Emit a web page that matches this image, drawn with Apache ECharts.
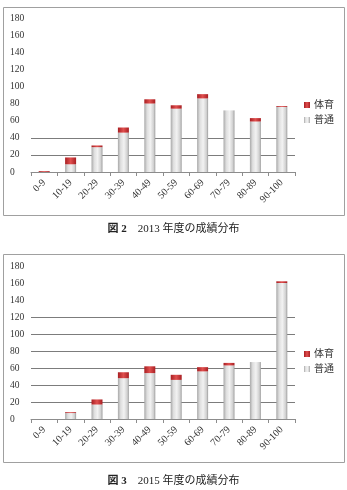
<!DOCTYPE html>
<html>
<head>
<meta charset="utf-8">
<script src="https://cdn.jsdelivr.net/npm/echarts@6/dist/echarts.min.js"></script>
<style>
  html, body { margin: 0; padding: 0; background: #fff; }
  #chart { width: 347px; height: 490px; }
</style>
</head>
<body>
<div id="chart"></div>
<script>
// score ranges shared by both years
const categories = ["0-9", "10-19", "20-29", "30-39", "40-49", "50-59", "60-69", "70-79", "80-89", "90-100"];
const yTicks = [0, 20, 40, 60, 80, 100, 120, 140, 160, 180];
const seriesNames = ["体育", "普通"];

// 2013
const regular2013 = [0, 9, 29, 46, 80, 74, 86, 72, 59, 76];
const sports2013 = [1, 8, 2, 6, 5, 4, 5, 0, 4, 1];
// 2015
const regular2015 = [0, 7, 17, 48, 54, 46, 56, 63, 67, 160];
const sports2015 = [0, 1, 6, 7, 8, 6, 5, 3, 0, 2];

const FONT = '"Liberation Serif", "DejaVu Serif", "Noto Sans CJK JP", serif';

const grayFill = new echarts.graphic.LinearGradient(0, 0, 1, 0, [
  { offset: 0, color: "#a8a8a8" },
  { offset: 0.25, color: "#dedede" },
  { offset: 0.55, color: "#f2f2f2" },
  { offset: 0.85, color: "#d0d0d0" },
  { offset: 1, color: "#9c9c9c" },
]);
const redFill = new echarts.graphic.LinearGradient(0, 0, 1, 0, [
  { offset: 0, color: "#a81e22" },
  { offset: 0.5, color: "#e0504f" },
  { offset: 1, color: "#a81e22" },
]);

function gridLines(visible) {
  // one colour per tick, from 0 upward
  return yTicks.map((v) => (visible.includes(v) ? "#7c7c7c" : "rgba(0,0,0,0)"));
}

function xAxis(gridIndex) {
  return {
    type: "category",
    gridIndex,
    data: categories,
    axisLine: { lineStyle: { color: "#8c8c8c", width: 1 } },
    axisTick: { show: true, length: 4, lineStyle: { color: "#8c8c8c" } },
    axisLabel: { rotate: 45, fontSize: 10, color: "#333", fontFamily: FONT, margin: 9 },
  };
}

function yAxis(gridIndex, visible) {
  return {
    type: "value",
    gridIndex,
    min: 0,
    max: 180,
    interval: 20,
    axisLine: { show: false },
    axisTick: { show: false },
    axisLabel: { fontSize: 9.5, color: "#333", fontFamily: FONT, margin: 21, align: "left" },
    splitLine: { lineStyle: { color: gridLines(visible), width: 1 } },
  };
}

function bars(idx, regular, sports) {
  return [
    {
      name: "普通",
      type: "bar",
      stack: "s" + idx,
      xAxisIndex: idx,
      yAxisIndex: idx,
      barWidth: 11,
      data: regular,
      itemStyle: { color: grayFill },
    },
    {
      name: "体育",
      type: "bar",
      stack: "s" + idx,
      xAxisIndex: idx,
      yAxisIndex: idx,
      barWidth: 11,
      data: sports,
      itemStyle: { color: redFill },
    },
  ];
}

function legend(top) {
  return {
    data: seriesNames,
    orient: "vertical",
    right: 8,
    top,
    itemWidth: 6,
    itemHeight: 6,
    itemGap: 5,
    icon: "rect",
    textStyle: { fontSize: 10, color: "#333", fontFamily: FONT, padding: [0, 0, 0, -1] },
  };
}

function caption(top, fig, year) {
  return {
    type: "text",
    left: "center",
    top,
    style: {
      text: "{b|図 " + fig + "}　" + year + " 年度の成績分布",
      fontSize: 11,
      fill: "#222",
      fontFamily: FONT,
      rich: { b: { fontWeight: "bold", fontSize: 11, fontFamily: FONT, fill: "#222" } },
    },
  };
}

const chart = echarts.init(document.getElementById("chart"));
chart.setOption({
  backgroundColor: "#fff",
  animation: false,
  grid: [
    { left: 31, right: 52, top: 18, bottom: 318 },
    { left: 31, right: 52, top: 266, bottom: 71 },
  ],
  xAxis: [xAxis(0), xAxis(1)],
  yAxis: [yAxis(0, [20, 40]), yAxis(1, [20, 40, 60, 80, 100, 120])],
  legend: [legend(95), legend(344)],
  series: [...bars(0, regular2013, sports2013), ...bars(1, regular2015, sports2015)],
  graphic: [
    { type: "rect", shape: { x: 3.5, y: 7.5, width: 341, height: 208 }, style: { fill: "none", stroke: "#a0a0a0", lineWidth: 1 } },
    { type: "rect", shape: { x: 3.5, y: 254.5, width: 341, height: 208 }, style: { fill: "none", stroke: "#a0a0a0", lineWidth: 1 } },
    caption(224, 2, 2013),
    caption(476, 3, 2015),
  ],
});
</script>
</body>
</html>
